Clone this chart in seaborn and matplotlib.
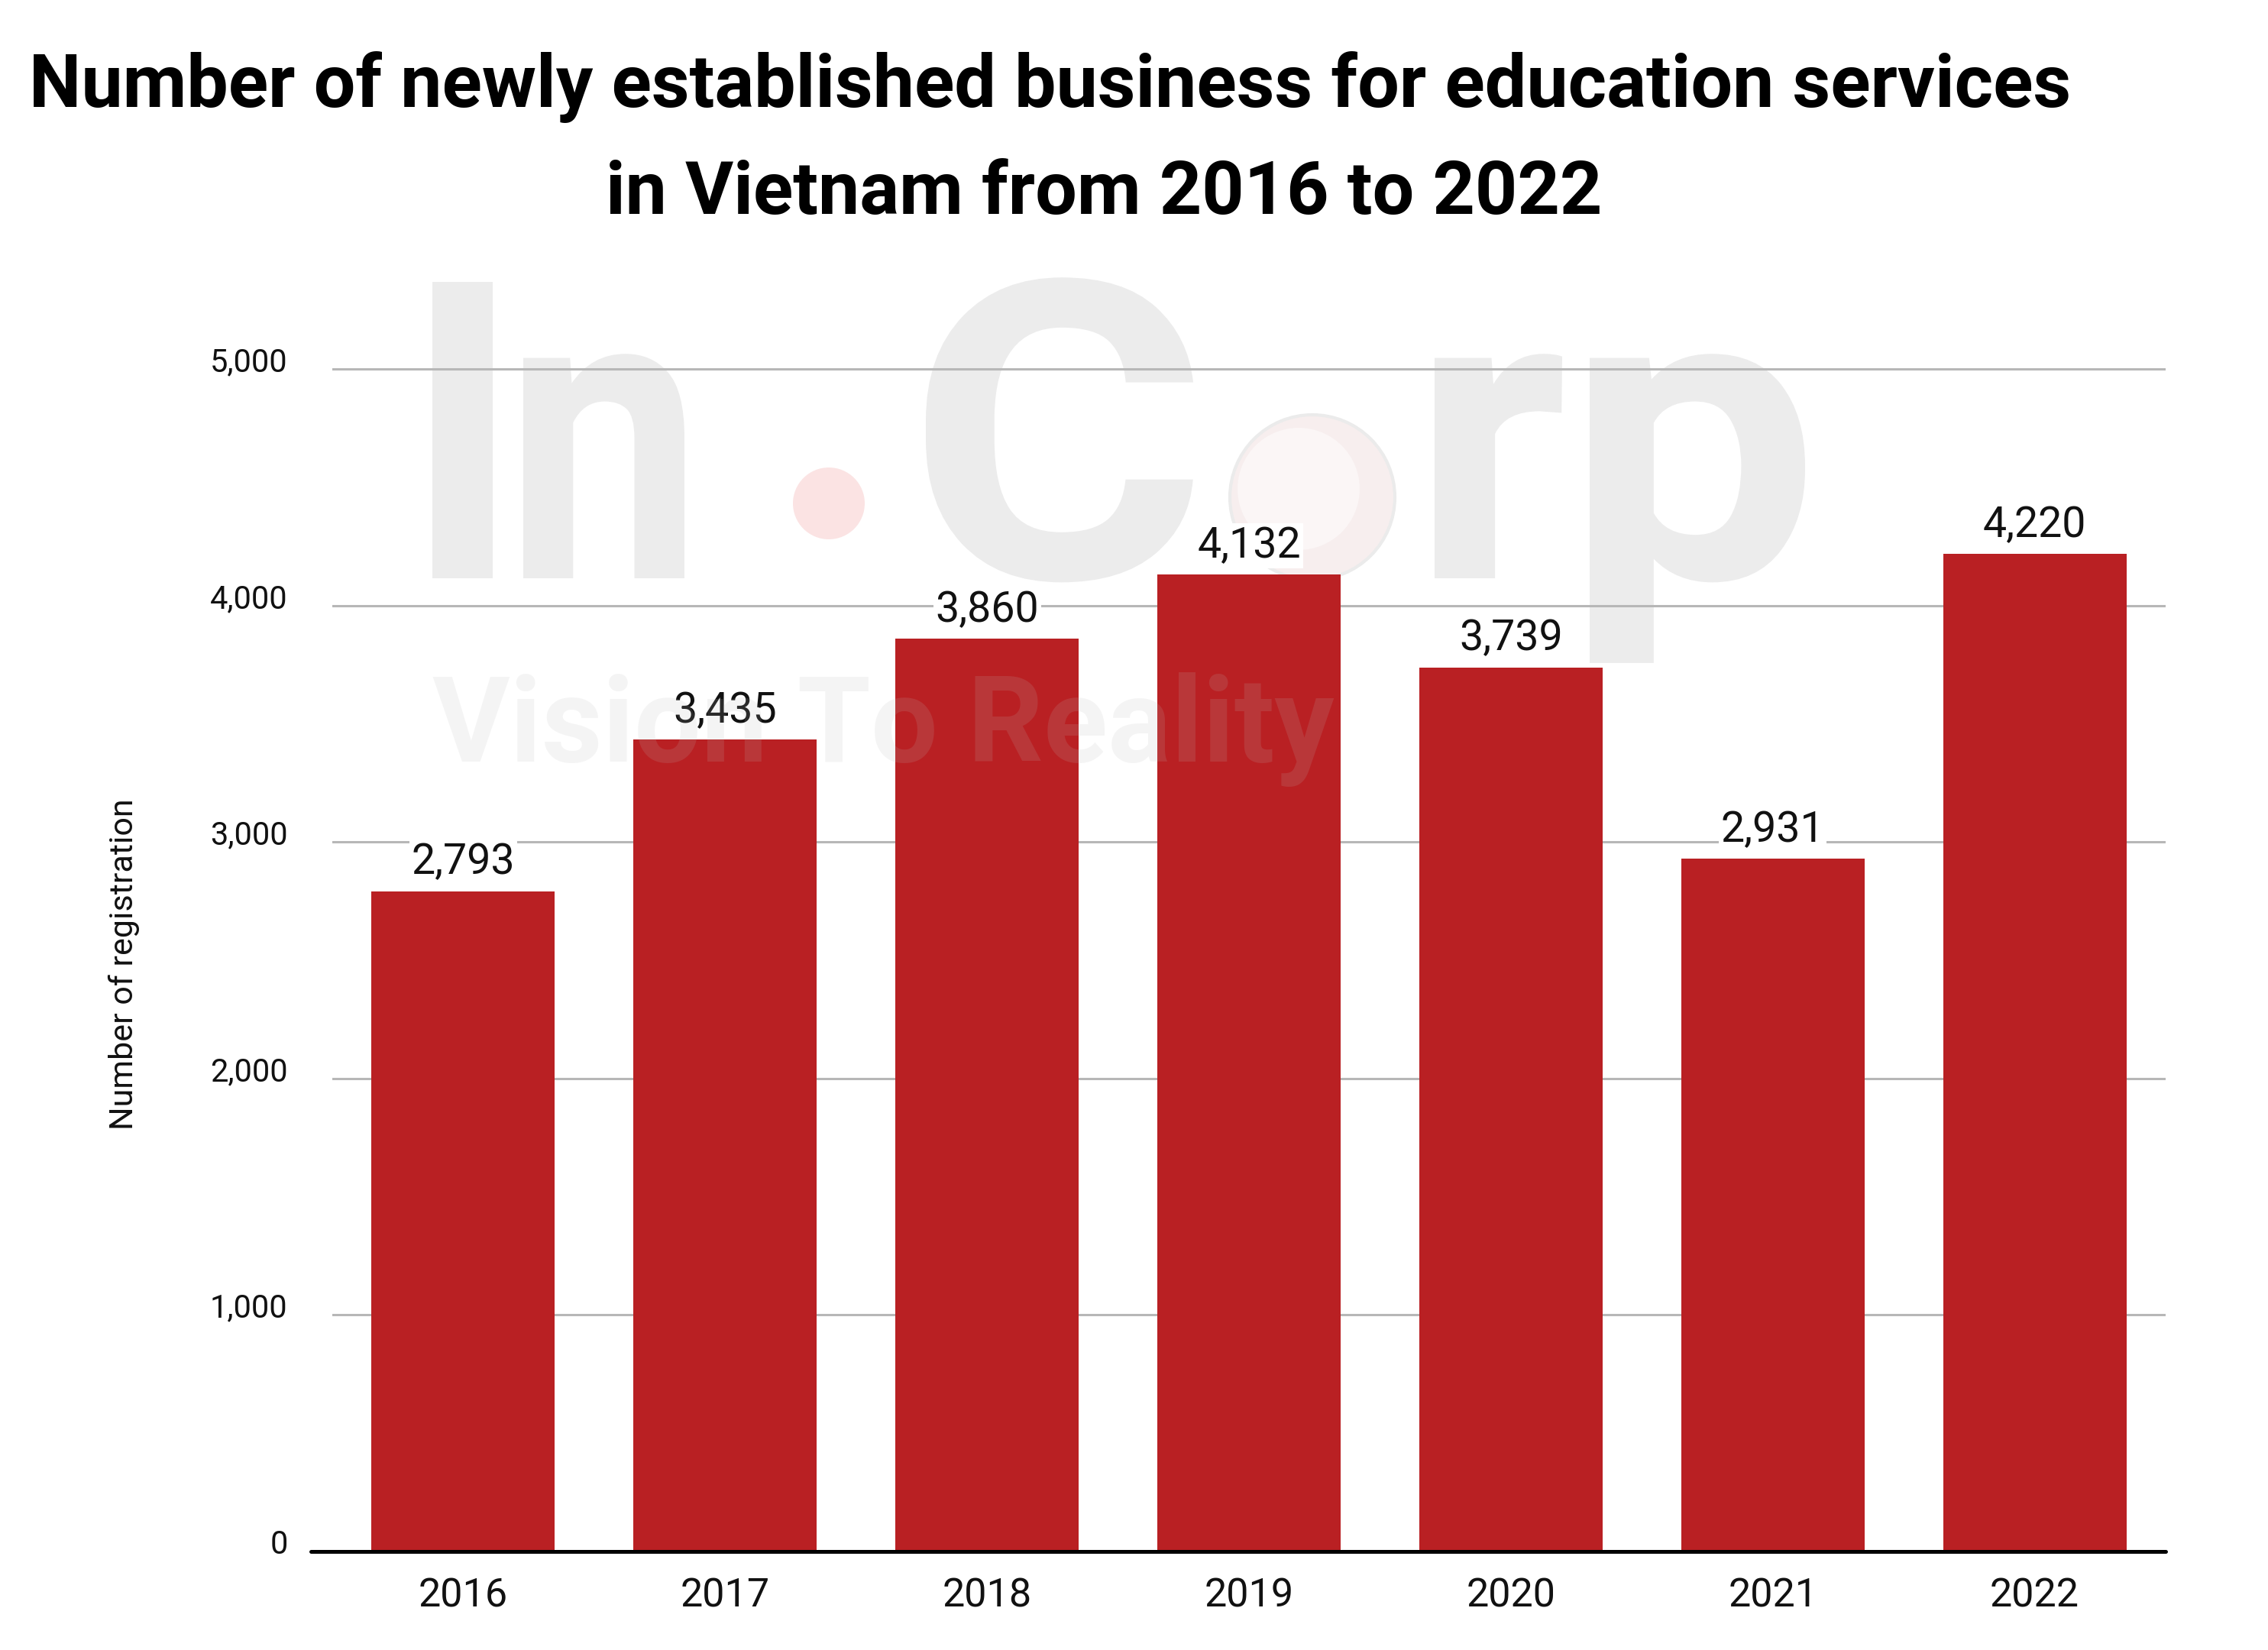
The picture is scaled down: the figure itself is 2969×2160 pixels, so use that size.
import matplotlib
matplotlib.use("Agg")
import matplotlib.pyplot as plt
import seaborn as sns
from matplotlib.patches import Circle, PathPatch
from matplotlib.textpath import TextPath
from matplotlib.font_manager import FontProperties
from matplotlib.transforms import ScaledTranslation, Affine2D
from matplotlib.ticker import FuncFormatter, MultipleLocator

# ---- data ----
years = ["2016", "2017", "2018", "2019", "2020", "2021", "2022"]
registrations = [2793, 3435, 3860, 4132, 3739, 2931, 4220]
title_line1 = "Number of newly established business for education services"
title_line2 = "in Vietnam from 2016 to 2022"
y_label = "Number of registration"

W, H, DPI = 2969, 2160, 100
sns.set_theme(style="white")
plt.rcParams["font.family"] = ["Roboto", "DejaVu Sans"]

fig = plt.figure(figsize=(W / DPI, H / DPI), dpi=DPI)
fig.patch.set_facecolor("white")

ax_left, ax_right = 435 / W, 2835 / W
ax_bottom = 1 - 2031 / H
ax_top = 1 - 406 / H
ax = fig.add_axes([ax_left, ax_bottom, ax_right - ax_left, ax_top - ax_bottom])
ax.set_facecolor("none")

bar_color = "#B92023"
sns.barplot(x=years, y=registrations, color=bar_color, saturation=1, width=0.7,
            linewidth=0, ax=ax, zorder=2)

ax.set_xlim(-0.5, 6.5)
ax.set_ylim(0, 5250)
ax.yaxis.set_major_locator(MultipleLocator(1000))
ax.yaxis.set_major_formatter(FuncFormatter(lambda v, p: f"{int(v):,}"))
ax.grid(False)
ax.yaxis.grid(True, color="#b7b7b7", linewidth=2.2, zorder=0)
ax.set_axisbelow(True)
for s in ax.spines.values():
    s.set_visible(False)
ax.tick_params(axis="both", length=0)
ax.tick_params(axis="y", labelsize=30, pad=42, labelcolor="#111111")
ax.tick_params(axis="x", labelsize=37.5, pad=24, labelcolor="#111111")
ax.set_xlabel("")
ax.set_ylabel("")
for lab in ax.get_yticklabels():
    lab.set_transform(lab.get_transform() + ScaledTranslation(0, 13 / DPI, fig.dpi_scale_trans))

# baseline
ax.axhline(0, xmin=-0.0117, xmax=1, color="black", linewidth=3.6, clip_on=False, zorder=3)

# data labels
ax.bar_label(ax.containers[0], labels=[f"{v:,}" for v in registrations],
             padding=8, fontsize=40, color="#111111", zorder=4,
             bbox=dict(facecolor="white", edgecolor="none", pad=2))

# y label
fig.text(162 / W, 1 - 1262 / H, y_label, rotation=90, ha="center", va="center",
         fontsize=31, color="#111111")

# title
fig.text(38 / W, 1 - 140 / H, title_line1, ha="left", va="baseline",
         fontsize=69.7, fontweight="bold", color="black")
fig.text(793 / W, 1 - 280 / H, title_line2, ha="left", va="baseline",
         fontsize=69.7, fontweight="bold", color="black")

# ---- watermark (decorative, drawn behind the chart) ----
wm_prop = FontProperties(family="Roboto", weight="bold")
wm_base = H - 757
for ch, left, right in [("I", 566, 645), ("n", 685, 896), ("C", 1212, 1562),
                        ("r", 1878, 2045), ("p", 2081, 2363)]:
    tp = TextPath((0, 0), ch, size=546, prop=wm_prop)
    ext = tp.get_extents()
    sx = (right - left) / ext.width
    tr = Affine2D().translate(-ext.x0, 0).scale(sx, 1).translate(left, wm_base)
    fig.patches.append(PathPatch(tr.transform_path(tp), transform=None,
                                 facecolor="#ececec", edgecolor="none", zorder=-2))
fig.patches.append(Circle((1085, H - 659), 47, transform=None, facecolor="#fbe3e3",
                          edgecolor="none", zorder=-2))
fig.patches.append(Circle((1718, H - 651), 108, transform=None, facecolor="#f7eeee",
                          edgecolor="#ebebeb", linewidth=3, zorder=-2))
fig.patches.append(Circle((1700, H - 640), 80, transform=None, facecolor="#fbf6f6",
                          edgecolor="none", zorder=-2))
fig.text(566 / W, 1 - 997 / H, "Vision To Reality", ha="left", va="baseline",
         fontsize=112, fontweight="bold", color="#bbbbbb", alpha=0.15, zorder=10)

fig.savefig("out.png", dpi=DPI, facecolor="white")
